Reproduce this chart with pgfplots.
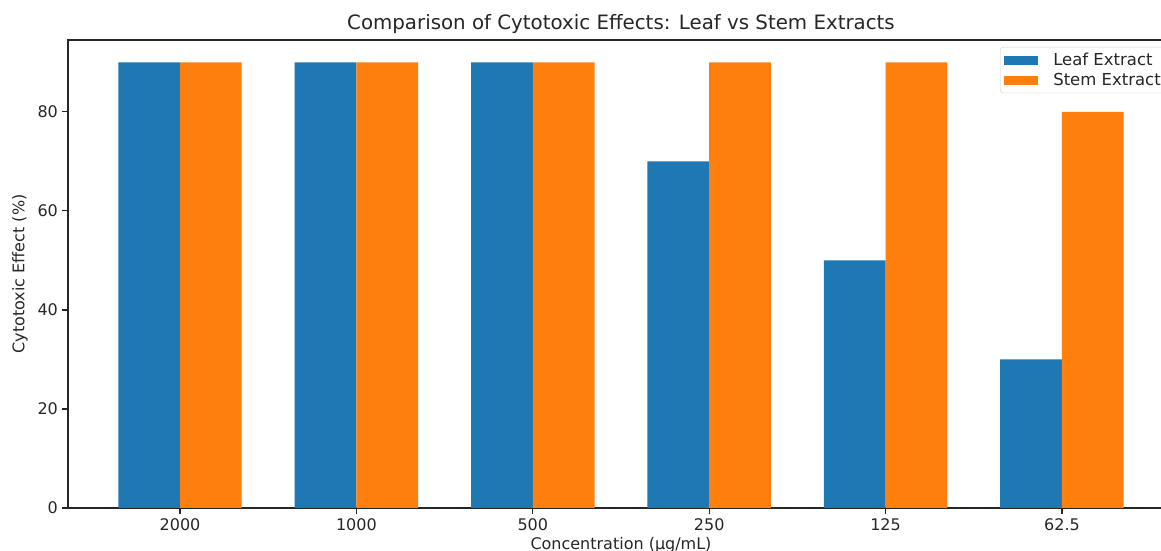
\documentclass[border=0pt]{standalone}
\usepackage{fontspec}
\setmainfont{DejaVu Sans}
\usepackage{pgfplots}
\pgfplotsset{compat=1.18}
\definecolor{c0}{HTML}{1F77B4}
\definecolor{c1}{HTML}{FF7F0E}
\definecolor{txt}{HTML}{262626}
\begin{document}
\begin{tikzpicture}[x=1pt,y=1pt]
\useasboundingbox (0,0) rectangle (1161,551);
\clip (0,0) rectangle (1161,551);
\begin{axis}[
  at={(68pt,43pt)}, anchor=south west,
  scale only axis, width=1106pt, height=468pt,
  xmin=-0.635, xmax=5.635, ymin=0, ymax=94.5,
  xtick={0,1,2,3,4,5},
  xticklabels={2000,1000,500,250,125,62.5},
  ytick={0,20,40,60,80},
  xtick pos=bottom, ytick pos=left,
  tick align=outside, major tick length=5.6pt,
  axis line style={line width=1.2pt, txt},
  every tick/.style={line width=1.2pt, txt},
  tick label style={font=\fontsize{16}{19}\selectfont, text=txt},
  /pgf/number format/assume math mode=true,
  xticklabel style={yshift=-1pt},
  yticklabel style={xshift=-1pt},
  title={Comparison of Cytotoxic Effects: Leaf vs Stem Extracts},
  title style={font=\fontsize{19.8}{23}\selectfont, text=txt, at={(axis description cs:0.5,1)}, anchor=base, yshift=4pt},
  xlabel={Concentration (µg/mL)},
  xlabel style={font=\fontsize{16}{19}\selectfont, text=txt, at={(axis description cs:0.5,0)}, anchor=base, yshift=-41pt},
  ylabel={Cytotoxic Effect (\%)},
  ylabel style={font=\fontsize{16}{19}\selectfont, text=txt, at={(axis description cs:-0.0434,0.5)}, anchor=center},
  legend cell align=left,
  legend style={at={(rel axis cs:1,1)}, anchor=north east, xshift=-7pt, yshift=-7pt,
    draw=black!20, rounded corners=3pt, fill=white,
    font=\fontsize{16.5}{19}\selectfont, text=txt,
    inner xsep=4pt, inner ysep=4pt, row sep=2pt,
    nodes={inner sep=2pt},
    /tikz/every odd column/.append style={column sep=13pt}},
]
\addplot[ybar, bar width=0.35, bar shift=-0.175, fill=c0, draw=none,
  legend image code/.code={\fill[c0, sharp corners] (0pt,-4.5pt) rectangle (34pt,4.5pt);}]
  coordinates {(0,90) (1,90) (2,90) (3,70) (4,50) (5,30)};
\addlegendentry{Leaf Extract}
\addplot[ybar, bar width=0.35, bar shift=0.175, fill=c1, draw=none,
  legend image code/.code={\fill[c1, sharp corners] (0pt,-4.5pt) rectangle (34pt,4.5pt);}]
  coordinates {(0,90) (1,90) (2,90) (3,90) (4,90) (5,80)};
\addlegendentry{Stem Extract}
\end{axis}
\end{tikzpicture}
\end{document}
